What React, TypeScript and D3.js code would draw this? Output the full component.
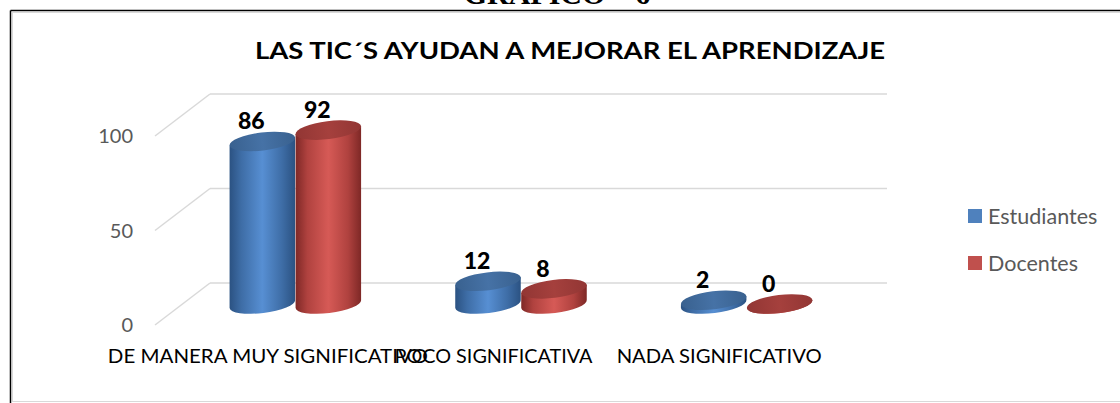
import React from "react";
import * as d3 from "d3";

const categories = ["DE MANERA MUY SIGNIFICATIVO", "POCO SIGNIFICATIVA", "NADA SIGNIFICATIVO"];
const seriesNames = ["Estudiantes", "Docentes"];
const estudiantes = [86, 12, 2];
const docentes = [92, 8, 0];
const yTicks = [0, 50, 100];
const title = "LAS TIC´S AYUDAN A MEJORAR EL APRENDIZAJE";
const heading = "GRAFICO – 6";

const W = 1120;
const H = 403;
const FONT = "Lato, 'Open Sans', sans-serif";

const palette: Record<string, { dark: string; mid: string; light: string; top: string; topLight: string; swatch: string }> = {
  Estudiantes: { dark: "#2B5282", mid: "#3E6DA6", light: "#578FD3", top: "#39618F", topLight: "#4672A6", swatch: "#4F81BD" },
  Docentes: { dark: "#7E2826", mid: "#B0423F", light: "#D65A56", top: "#923634", topLight: "#A5403D", swatch: "#C0504D" },
};

export default function App() {
  const seriesValues: Record<string, number[]> = { Estudiantes: estudiantes, Docentes: docentes };

  // back wall scales
  const yBack = d3.scaleLinear().domain([0, 100]).range([283, 94]);
  const xBack = d3.scaleBand<string>().domain(categories).range([210, 887]);
  const depthX = -55;
  const depthY = 42;
  const bw = xBack.bandwidth();
  const xSeries = d3.scaleBand<string>().domain(seriesNames).range([-66, 66]);
  const sw = xSeries.bandwidth();

  const rx = sw / 2;
  const ry = 9;
  const rot = -7;
  const rad = (rot * Math.PI) / 180;
  const a = rx * Math.cos(rad);
  const b = -rx * Math.sin(rad);

  const bars: any[] = [];
  categories.forEach((c, i) => {
    seriesNames.forEach((s) => {
      const v = seriesValues[s][i];
      const cx = (xBack(c) as number) + bw / 2 + depthX / 2 + (xSeries(s) as number) + sw / 2;
      const yBot = yBack(0) + depthY / 2;
      const yTop = yBack(v) + depthY / 2;
      bars.push({ c, s, v, cx, yBot, yTop, key: `${c}-${s}` });
    });
  });

  return (
    <svg width={W} height={H} style={{ position: "absolute", left: 0, top: 0, background: "#fff" }}>
      <defs>
        {seriesNames.map((s) => (
          <linearGradient key={s} id={`body-${s}`} x1="0" x2="1" y1="0" y2="0">
            <stop offset="0" stopColor={palette[s].dark} />
            <stop offset="0.18" stopColor={palette[s].mid} />
            <stop offset="0.5" stopColor={palette[s].light} />
            <stop offset="0.8" stopColor={palette[s].mid} />
            <stop offset="1" stopColor={palette[s].dark} />
          </linearGradient>
        ))}
        {seriesNames.map((s) => (
          <linearGradient key={s} id={`top-${s}`} x1="0" x2="1" y1="0" y2="0">
            <stop offset="0" stopColor={palette[s].top} />
            <stop offset="0.5" stopColor={palette[s].topLight} />
            <stop offset="1" stopColor={palette[s].top} />
          </linearGradient>
        ))}
      </defs>

      {/* page heading (cut off at the top, as in the reference) */}
      <text x={557} y={4} textAnchor="middle" fontFamily="'Liberation Serif', 'Times New Roman', serif" fontWeight="bold" fontSize={30} fill="#000">
        {heading}
      </text>

      {/* outer frame */}
      <line x1={10.5} y1={10.5} x2={W} y2={10.5} stroke="#000" strokeWidth={1.5} />
      <line x1={10.5} y1={10.5} x2={10.5} y2={H} stroke="#000" strokeWidth={1.5} />
      <rect x={12.5} y={12.5} width={W} height={389} fill="none" stroke="#D9D9D9" strokeWidth={1} />

      {/* title */}
      <text x={255} y={59} textLength={630} lengthAdjust="spacingAndGlyphs" fontFamily={FONT} fontWeight="bold" fontSize={23} fill="#000">
        {title}
      </text>

      {/* gridlines */}
      {yTicks.map((t) => (
        <g key={t}>
          <line x1={210} x2={887} y1={yBack(t)} y2={yBack(t)} stroke="#D9D9D9" strokeWidth={1.5} />
          <line x1={210} y1={yBack(t)} x2={210 + depthX} y2={yBack(t) + depthY} stroke="#D9D9D9" strokeWidth={1.5} />
          <text x={133} y={yBack(t) + depthY + 7} textAnchor="end" fontFamily={FONT} fontSize={20} fill="#595959">
            {t}
          </text>
        </g>
      ))}

      {/* bars */}
      {bars.map((d) => (
        <g key={d.key}>
          <path
            d={`M${d.cx - a},${d.yTop + b} L${d.cx - a},${d.yBot + b} A${rx},${ry} ${rot} 0 0 ${d.cx + a},${d.yBot - b} L${d.cx + a},${d.yTop - b} Z`}
            fill={`url(#body-${d.s})`}
          />
          <ellipse cx={d.cx} cy={d.yTop} rx={rx} ry={ry} transform={`rotate(${rot} ${d.cx} ${d.yTop})`} fill={`url(#top-${d.s})`} />
        </g>
      ))}

      {/* data labels */}
      {bars.map((d) => (
        <text key={d.key + "l"} x={d.cx - 11} y={d.yTop - 12} textAnchor="middle" fontFamily={FONT} fontWeight="900" fontSize={23} fill="#000">
          {d.v}
        </text>
      ))}

      {/* category labels */}
      {categories.map((c, i) => {
        const widths = [320, 198, 205];
        return (
          <text
            key={c}
            x={(xBack(c) as number) + bw / 2 + depthX}
            y={363}
            textAnchor="middle"
            textLength={widths[i]}
            lengthAdjust="spacingAndGlyphs"
            fontFamily={FONT}
            fontSize={19}
            fill="#000"
          >
            {c}
          </text>
        );
      })}

      {/* legend */}
      {seriesNames.map((s, i) => (
        <g key={s} transform={`translate(968, ${209 + i * 47})`}>
          <rect x={0} y={0} width={14} height={14} fill={palette[s].swatch} />
          <text x={20} y={15} fontFamily={FONT} fontSize={21.5} fill="#595959">
            {s}
          </text>
        </g>
      ))}
    </svg>
  );
}
